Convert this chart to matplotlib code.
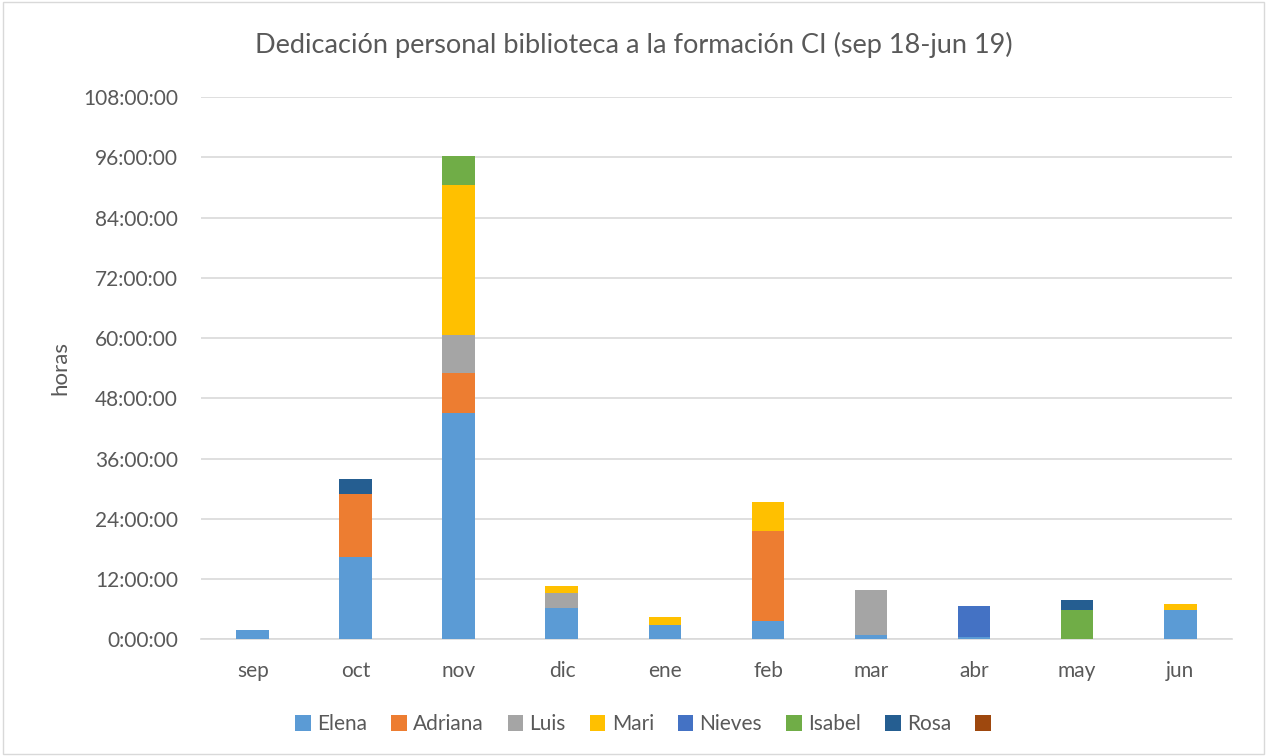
import numpy as np
import matplotlib
matplotlib.use("Agg")
import matplotlib.pyplot as plt
from matplotlib.patches import Rectangle, Patch

plt.rcParams['font.family'] = ['Lato', 'DejaVu Sans']

meses = ["sep", "oct", "nov", "dic", "ene", "feb", "mar", "abr", "may", "jun"]

# horas dedicadas por persona y mes
elena = [1.9, 16.4, 45.0, 6.3, 2.9, 3.6, 0.8, 0.5, 0.0, 5.9]
adriana = [0, 12.5, 8.0, 0, 0, 18.0, 0, 0, 0, 0]
luis = [0, 0, 7.6, 3.0, 0, 0, 9.0, 0, 0, 0]
mari = [0, 0, 29.8, 1.3, 1.5, 5.8, 0, 0, 0, 1.2]
nieves = [0, 0, 0, 0, 0, 0, 0, 6.2, 0, 0]
isabel = [0, 0, 5.9, 0, 0, 0, 0, 0, 5.85, 0]
rosa = [0, 3.1, 0, 0, 0, 0, 0, 0, 2.0, 0]
otro = [0, 0, 0, 0, 0, 0, 0, 0, 0, 0]

series = [("Elena", elena, "#5B9BD5"),
          ("Adriana", adriana, "#ED7D31"),
          ("Luis", luis, "#A5A5A5"),
          ("Mari", mari, "#FFC000"),
          ("Nieves", nieves, "#4472C4"),
          ("Isabel", isabel, "#70AD47"),
          ("Rosa", rosa, "#255E91"),
          (" ", otro, "#9E480E")]

fig = plt.figure(figsize=(12.67, 7.56), dpi=100)
ax = fig.add_axes([0.159, 0.1544, 0.813, 0.7173])

x = np.arange(len(meses))
bottom = np.zeros(len(meses))
handles = []
for name, vals, col in series:
    vals = np.array(vals, dtype=float)
    ax.bar(x, vals, 0.32, bottom=bottom, color=col, zorder=3)
    handles.append(Patch(facecolor=col, label=name))
    bottom += vals

ax.set_xlim(-0.5, len(meses) - 0.5)
ax.set_ylim(0, 108)
ticks = np.arange(0, 109, 12)
ax.set_yticks(ticks)
ax.set_yticklabels(["%d:00:00" % t for t in ticks])
ax.set_xticks(x)
ax.set_xticklabels(meses)
ax.tick_params(axis='both', length=0, labelsize=15, colors="#595959")
ax.tick_params(axis='x', pad=16)
ax.tick_params(axis='y', pad=17)
ax.yaxis.grid(True, color="#D9D9D9", linewidth=1.2, zorder=0)
for s in ["top", "right", "left"]:
    ax.spines[s].set_visible(False)
ax.spines["bottom"].set_color("#D9D9D9")
ax.spines["bottom"].set_linewidth(1.2)

ax.set_ylabel("horas", fontsize=16, color="#595959", labelpad=9)

fig.text(0.5, 0.94, "Dedicación personal biblioteca a la formación CI (sep 18-jun 19)",
         ha="center", va="center", fontsize=19.5, color="#595959")

leg = fig.legend(handles=handles, loc="center", bbox_to_anchor=(0.512, 0.042), ncol=8,
                 frameon=False, fontsize=15, handlelength=0.75, handleheight=0.75,
                 handletextpad=0.3, columnspacing=1.15)
for t in leg.get_texts():
    t.set_color("#595959")

fig.patches.append(Rectangle((0.002, 0.002), 0.996, 0.996, transform=fig.transFigure,
                             fill=False, edgecolor="#D9D9D9", linewidth=1))

fig.savefig("out.png", dpi=100, facecolor="white")
